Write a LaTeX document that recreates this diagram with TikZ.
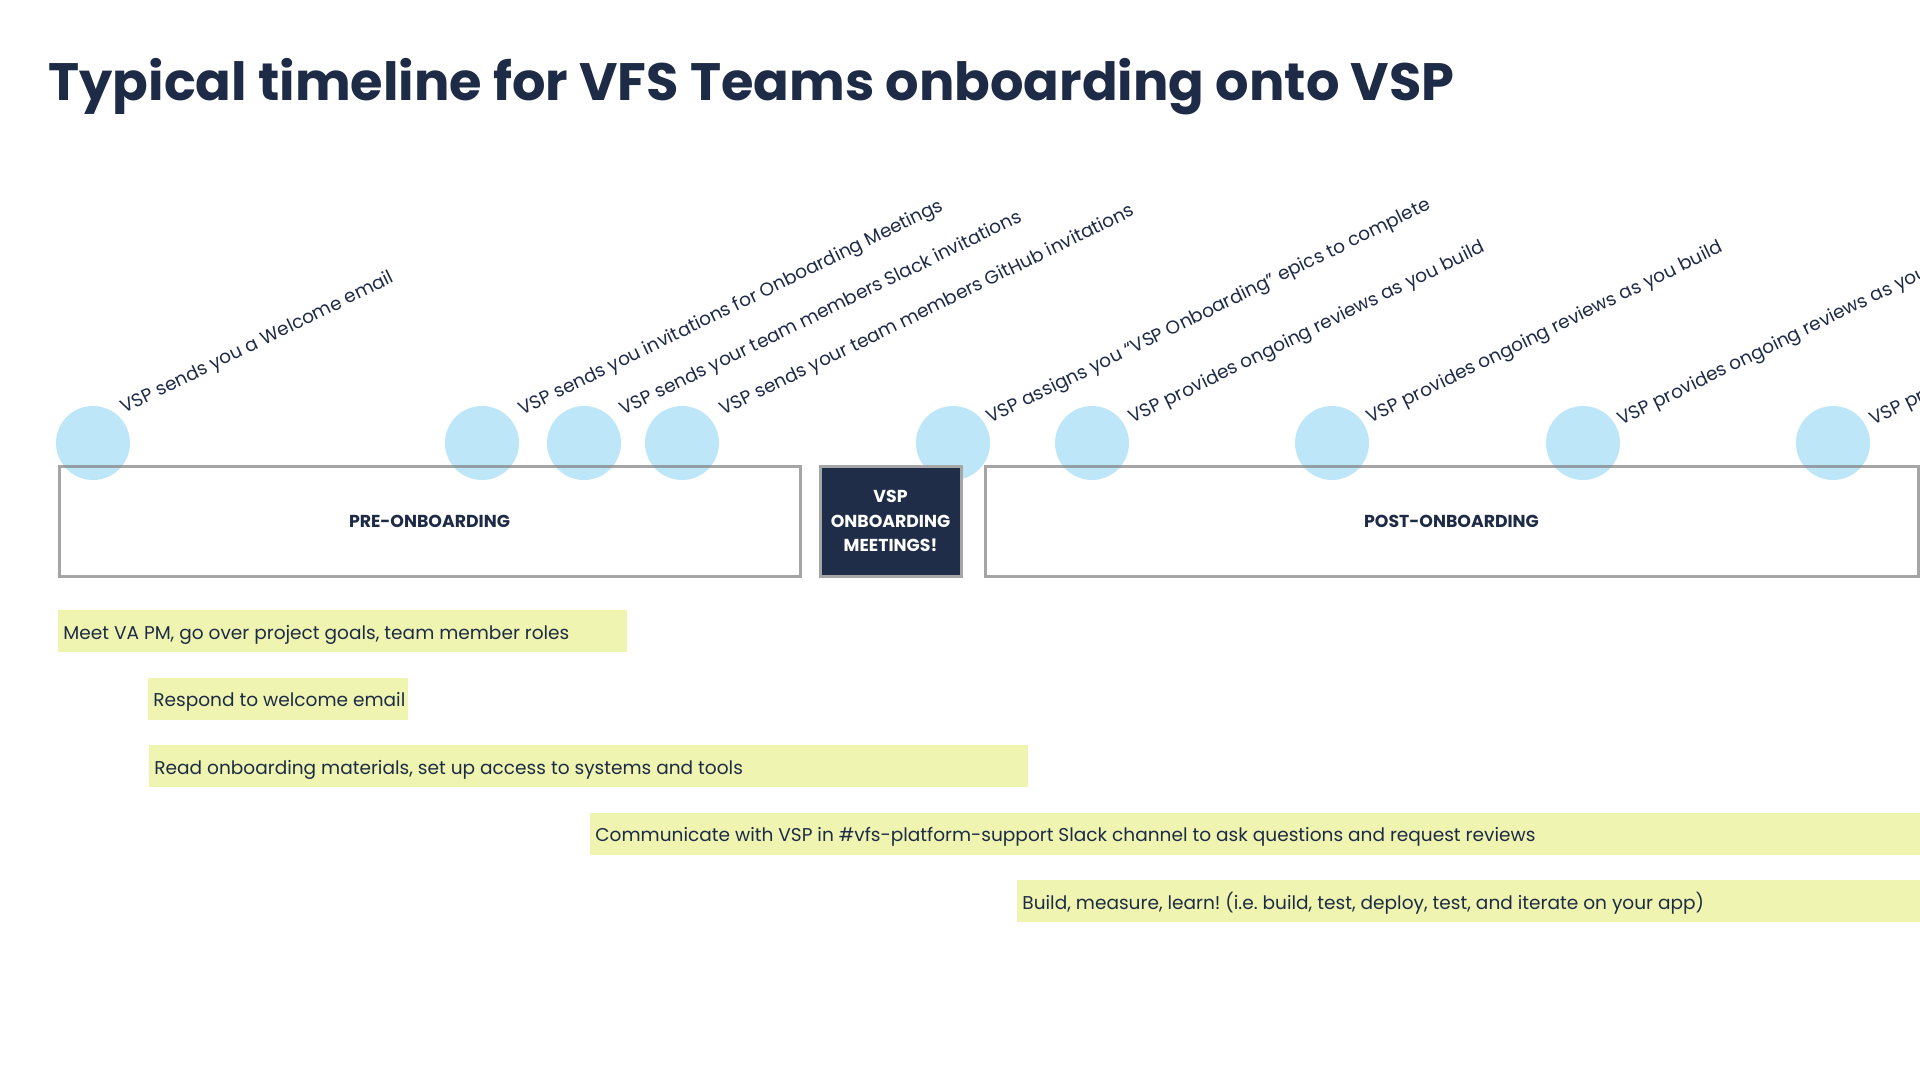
\documentclass[tikz,border=0pt]{standalone}
\usepackage{fontspec}
\setmainfont{Poppins}
\frenchspacing

\definecolor{navy}{RGB}{30,43,70}
\definecolor{darkfill}{RGB}{31,45,72}
\definecolor{dotblue}{RGB}{167,223,248}
\definecolor{barfill}{RGB}{239,245,176}
\definecolor{framegray}{RGB}{128,128,128}

% font sizes chosen so that reference strings get their intended widths
\newlength\measlen
\settowidth\measlen{\fontsize{10pt}{12pt}\selectfont Meet VA PM, go over project goals, team member roles}
\pgfmathsetmacro\bodysize{10*253/\measlen}
\settowidth\measlen{\bfseries\fontsize{10pt}{12pt}\selectfont Typical timeline for VFS Teams onboarding onto VSP}
\pgfmathsetmacro\titlesize{10*703/\measlen}
\settowidth\measlen{\bfseries\fontsize{10pt}{12pt}\selectfont PRE-ONBOARDING}
\pgfmathsetmacro\capsize{10*80.5/\measlen}

\newcommand\bodyfont{\fontsize{\bodysize pt}{\bodysize pt}\selectfont}
\newcommand\titlefont{\bfseries\fontsize{\titlesize pt}{\titlesize pt}\selectfont}
\newcommand\capsfont{\bfseries\fontsize{\capsize pt}{12.25pt}\selectfont}

\tikzset{
  dot/.style={circle, inner sep=0pt, minimum size=37pt, fill=dotblue, fill opacity=0.75, draw=none},
  phase/.style={rectangle, draw=framegray, draw opacity=0.7, line width=1.5pt,
    minimum height=55pt, inner sep=0pt, text=navy, font=\capsfont},
  meetbox/.style={phase, fill=darkfill, draw opacity=1, draw=framegray!70!white,
    text=white, align=center, font=\capsfont},
  event/.style={rotate=26, anchor=base west, inner sep=0pt, text=navy, font=\bodyfont},
  taskbar/.style={rectangle, fill=barfill, anchor=west, minimum height=21pt, inner sep=0pt},
  tasktext/.style={anchor=base west, inner sep=0pt, text=navy, font=\bodyfont},
}

\begin{document}
\begin{tikzpicture}[x=0.5pt, y=-0.5pt]
  \fill[white] (0,0) rectangle (1920,1080);
  \useasboundingbox (0,0) rectangle (1920,1080);

  % heading
  \node[anchor=base west, inner sep=0pt, text=navy, font=\titlefont] (title) at (48,101)
    {Typical timeline for VFS Teams onboarding onto VSP};

  % milestone dots
  \node[dot] (c1) at (93,443) {};
  \node[dot] (c2) at (482,443) {};
  \node[dot] (c3) at (584,443) {};
  \node[dot] (c4) at (682,443) {};
  \node[dot] (c5) at (953,443) {};
  \node[dot] (c6) at (1092,443) {};
  \node[dot] (c7) at (1332,443) {};
  \node[dot] (c8) at (1583,443) {};
  \node[dot] (c9) at (1833,443) {};

  % phases
  \node[phase, minimum width=370.5pt] (pre) at (429.5,521) {PRE-ONBOARDING};
  \node[meetbox, minimum width=70.5pt] (meet) at (890.5,521) {VSP\\ONBOARDING\\MEETINGS!};
  \node[phase, minimum width=466.5pt] (post) at (1451.5,521) {POST-ONBOARDING};

  % milestone captions
  \node[event] (e1) at (124,414) {VSP sends you a Welcome email};
  \node[event] (e2) at (522,416) {VSP sends you invitations for Onboarding Meetings};
  \node[event] (e3) at (623,416) {VSP sends your team members Slack invitations};
  \node[event] (e4) at (723,416) {VSP sends your team members GitHub invitations};
  \node[event] (e5) at (990,424) {VSP assigns you “VSP Onboarding” epics to complete};
  \node[event] (e6) at (1132,424) {VSP provides ongoing reviews as you build};
  \node[event] (e7) at (1370,424) {VSP provides ongoing reviews as you build};
  \node[event] (e8) at (1621,426) {VSP provides ongoing reviews as you build};
  \node[event] (e9) at (1873,426) {VSP provides ongoing reviews as you build};

  % activity bars
  \node[taskbar, minimum width=284.5pt] (b1) at (58,631) {};
  \node[taskbar, minimum width=130pt] (b2) at (148,698.5) {};
  \node[taskbar, minimum width=439.5pt] (b3) at (149,766) {};
  \node[taskbar, minimum width=680pt] (b4) at (590,833.5) {};
  \node[taskbar, minimum width=470pt] (b5) at (1017,901) {};

  \node[tasktext] (t1) at ([xshift=2.5pt, yshift=-4pt]b1.west) {Meet VA PM, go over project goals, team member roles};
  \node[tasktext] (t2) at ([xshift=2.5pt, yshift=-4pt]b2.west) {Respond to welcome email};
  \node[tasktext] (t3) at ([xshift=2.5pt, yshift=-4pt]b3.west) {Read onboarding materials, set up access to systems and tools};
  \node[tasktext] (t4) at ([xshift=2.5pt, yshift=-4pt]b4.west) {Communicate with VSP in \#vfs-platform-support Slack channel to ask questions and request reviews};
  \node[tasktext] (t5) at ([xshift=2.5pt, yshift=-4pt]b5.west) {Build, measure, learn! (i.e. build, test, deploy, test, and iterate on your app)};
\end{tikzpicture}
\end{document}
